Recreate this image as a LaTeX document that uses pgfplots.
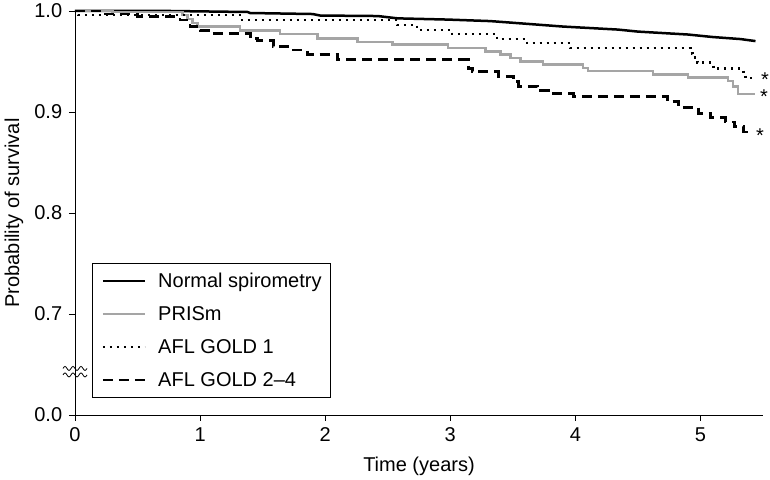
\documentclass[border=0pt]{standalone}
\usepackage{fontspec}
\setmainfont{Liberation Sans}
\usepackage{pgfplots}
\pgfplotsset{compat=1.18}
\definecolor{prism}{RGB}{165,165,165}
\newcommand{\fs}{\fontsize{20}{24}\selectfont}
\begin{document}
\fs
\begin{tikzpicture}
\begin{axis}[
  name=ax,
  scale only axis, width=688pt, height=404pt,
  xmin=0, xmax=5.5, ymin=0.6, ymax=1.0,
  axis lines*=left, clip=false,
  xtick={0,1,2,3,4,5},
  ytick={0.6,0.7,0.8,0.9,1.0},
  yticklabels={0.0,0.7,0.8,0.9,1.0},
  tick align=outside, major tick length=6pt,
  tick style={black, line width=0.9pt},
  axis line style={line width=0.9pt},
  /pgf/number format/assume math mode=true,
  ticklabel style={font=\fs},
  xlabel={Time (years)}, ylabel={Probability of survival},
  label style={font=\fs},
  xlabel style={at={(axis description cs:0.5,0)}, anchor=center, yshift=-51pt},
  ylabel style={at={(axis description cs:0,0.5)}, anchor=center, yshift=61pt},
  legend cell align=left,
  legend style={at={(axis description cs:0.0247,0.042)}, anchor=south west,
    draw=black, line width=0.9pt, fill=white, font=\fs,
    inner xsep=9pt, inner ysep=8.5pt, row sep=15pt, column sep=12pt,
    nodes={inner sep=0pt, text height=15pt, text depth=3pt}},
  legend image code/.code={\draw[#1] (0pt,0pt) -- (42pt,0pt);},
]
\addplot[black, line width=2.5pt] coordinates {
(0,1.0) (0.76,1.0) (1.38,0.999) (1.4,0.998) (1.9,0.997) (1.96,0.9955) (2.42,0.995) (2.58,0.9927) (2.98,0.9915) (3.32,0.990) (3.58,0.9876) (3.90,0.9846) (4.34,0.9816) (4.50,0.9796) (4.90,0.9767) (5.10,0.9742) (5.32,0.9722) (5.44,0.9702)};
\addlegendentry{Normal spirometry}
\addplot[prism, line width=2.5pt, const plot] coordinates {
(0,1.0) (0.3,0.999) (0.86,0.996) (0.9,0.992) (0.94,0.988) (0.98,0.9845) (1.32,0.9805) (1.64,0.977) (1.94,0.973) (2.26,0.9695) (2.54,0.967) (2.98,0.9635) (3.28,0.960) (3.40,0.957) (3.48,0.9535) (3.56,0.950) (3.74,0.947) (4.06,0.9437) (4.10,0.9404) (4.62,0.937) (4.90,0.934) (5.22,0.9305) (5.26,0.925) (5.30,0.918) (5.44,0.918)};
\addlegendentry{PRISm}
\addplot[black, line width=2.2pt, dash pattern=on 2pt off 5pt, const plot] coordinates {
(0,1.0) (0.024,0.996) (1.32,0.991) (2.576,0.986) (2.736,0.981) (3.016,0.977) (3.376,0.972) (3.616,0.968) (3.96,0.963) (4.92,0.958) (4.936,0.954) (4.976,0.949) (5.104,0.943) (5.344,0.938) (5.36,0.934) (5.416,0.934)};
\addlegendentry{AFL GOLD 1}
\addplot[black, line width=2.8pt, dash pattern=on 10pt off 6pt, const plot] coordinates {
(0,1.0) (0.2,0.997) (0.5,0.9945) (0.84,0.991) (0.92,0.985) (1.0,0.981) (1.1,0.978) (1.4,0.9727) (1.456,0.9707) (1.584,0.9645) (1.744,0.9613) (1.856,0.957) (2.096,0.9518) (3.144,0.943) (3.176,0.940) (3.384,0.9355) (3.504,0.930) (3.544,0.9255) (3.696,0.921) (3.784,0.918) (3.984,0.9156) (4.736,0.9106) (4.824,0.9047) (4.984,0.8987) (5.08,0.8942) (5.2,0.8900) (5.272,0.8853) (5.344,0.8801) (5.416,0.8801)};
\addlegendentry{AFL GOLD 2--4}
\node[anchor=base, yshift=-11pt, inner sep=0pt, font=\fs] at (axis cs:5.516,0.9366) {*};
\node[anchor=base, yshift=-11pt, inner sep=0pt, font=\fs] at (axis cs:5.508,0.919) {*};
\node[anchor=base, yshift=-11pt, inner sep=0pt, font=\fs] at (axis cs:5.476,0.8805) {*};
\draw[line width=0.8pt, shift={(axis cs:0,0.6446)}] (-12pt,1.5pt) sin (-10pt,3.5pt) cos (-8pt,1.5pt) sin (-6pt,-0.5pt) cos (-4pt,1.5pt) sin (-2pt,3.5pt) cos (0pt,1.5pt) sin (2pt,-0.5pt) cos (4pt,1.5pt) sin (6pt,3.5pt) cos (8pt,1.5pt) sin (10pt,-0.5pt) cos (12pt,1.5pt);
\draw[line width=0.8pt, shift={(axis cs:0,0.6446)}] (-12pt,-5pt) sin (-10pt,-3pt) cos (-8pt,-5pt) sin (-6pt,-7pt) cos (-4pt,-5pt) sin (-2pt,-3pt) cos (0pt,-5pt) sin (2pt,-7pt) cos (4pt,-5pt) sin (6pt,-3pt) cos (8pt,-5pt) sin (10pt,-7pt) cos (12pt,-5pt);
\end{axis}
\pgfresetboundingbox
\path ([xshift=-75pt,yshift=-65pt]ax.south west) rectangle ([xshift=7pt,yshift=11pt]ax.north east);
\end{tikzpicture}
\end{document}
